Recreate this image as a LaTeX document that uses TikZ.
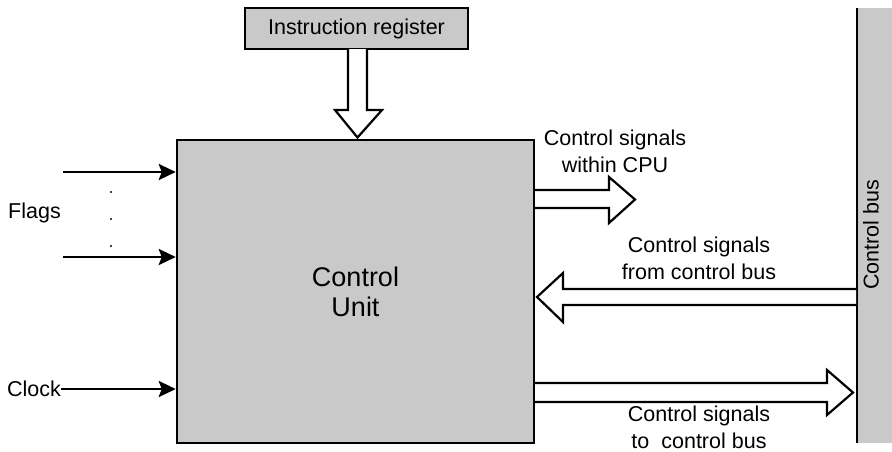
\documentclass[tikz,border=0pt]{standalone}
\usepackage{fontspec}
\setmainfont{Liberation Sans}
\usetikzlibrary{arrows.meta}
\definecolor{boxgrey}{RGB}{201,201,201}
\begin{document}
\begin{tikzpicture}[x=1pt,y=-1pt,
  lbl/.style={font=\fontsize{21.5}{27}\selectfont, inner sep=0pt, align=center},
  blockbox/.style={draw=black, line width=2.5pt, fill=boxgrey, inner sep=0pt},
  wire/.style={line width=2.6pt, -{Stealth[length=17pt,width=16pt,inset=3pt]}},
  hollow/.style={draw=black, line width=2.2pt, fill=white, line join=miter}
]
\useasboundingbox (0,0) rectangle (892,451);
\fill[white] (0,0) rectangle (892,451);

% control bus bar on the right
\fill[boxgrey] (857,8) rectangle (892,443);
\draw[line width=2.2pt] (857,8) -- (857,443);
\node[lbl, rotate=90] (bus) at (871,235) {Control bus};

% main blocks
\node[blockbox, minimum width=357pt, minimum height=303pt,
      font=\fontsize{27}{30}\selectfont, align=center] (cu) at (355.5,291.5) {Control\\Unit};
\node[blockbox, minimum width=223pt, minimum height=41pt,
      font=\fontsize{21.5}{27}\selectfont] (ir) at (356.5,28.5) {Instruction register};

% flag and clock inputs
\node[lbl, anchor=west] (flags) at (8,213) {Flags};
\node[lbl, anchor=west] (clock) at (7,389) {Clock};
\coordinate (f1) at (63,172);
\coordinate (f2) at (63,257);
\draw[wire] (f1) -- (f1 -| cu.west);
\draw[wire] (f2) -- (f2 -| cu.west);
\draw[wire] (clock.east) -- (clock.east -| cu.west);
\foreach \yy in {192,219,246} \fill (111,\yy) circle (1.1pt);

% instruction register into control unit
\draw[hollow] (348,49) -- (348,110) -- (335,110) -- (357.5,137.5) -- (382,110)
  -- (367,110) -- (367,49);

% control signals within CPU
\draw[hollow] (535,190) -- (609,190) -- (609,177) -- (635,199.5) -- (609,223)
  -- (609,208) -- (535,208);
\node[lbl, anchor=base] (within) at (615,172) {Control signals\\within CPU};

% control signals from control bus
\draw[hollow] (856,289) -- (563,289) -- (563,273) -- (537,297) -- (563,322)
  -- (563,305) -- (856,305);
\node[lbl, anchor=base] (from) at (699,279) {Control signals\\from control bus};

% control signals to control bus
\draw[hollow] (535,383) -- (827,383) -- (827,370) -- (853,392.5) -- (827,415)
  -- (827,402) -- (535,402);
\node[lbl, anchor=base] (to) at (699,448) {Control signals\\to\ \ control bus};
\end{tikzpicture}
\end{document}
